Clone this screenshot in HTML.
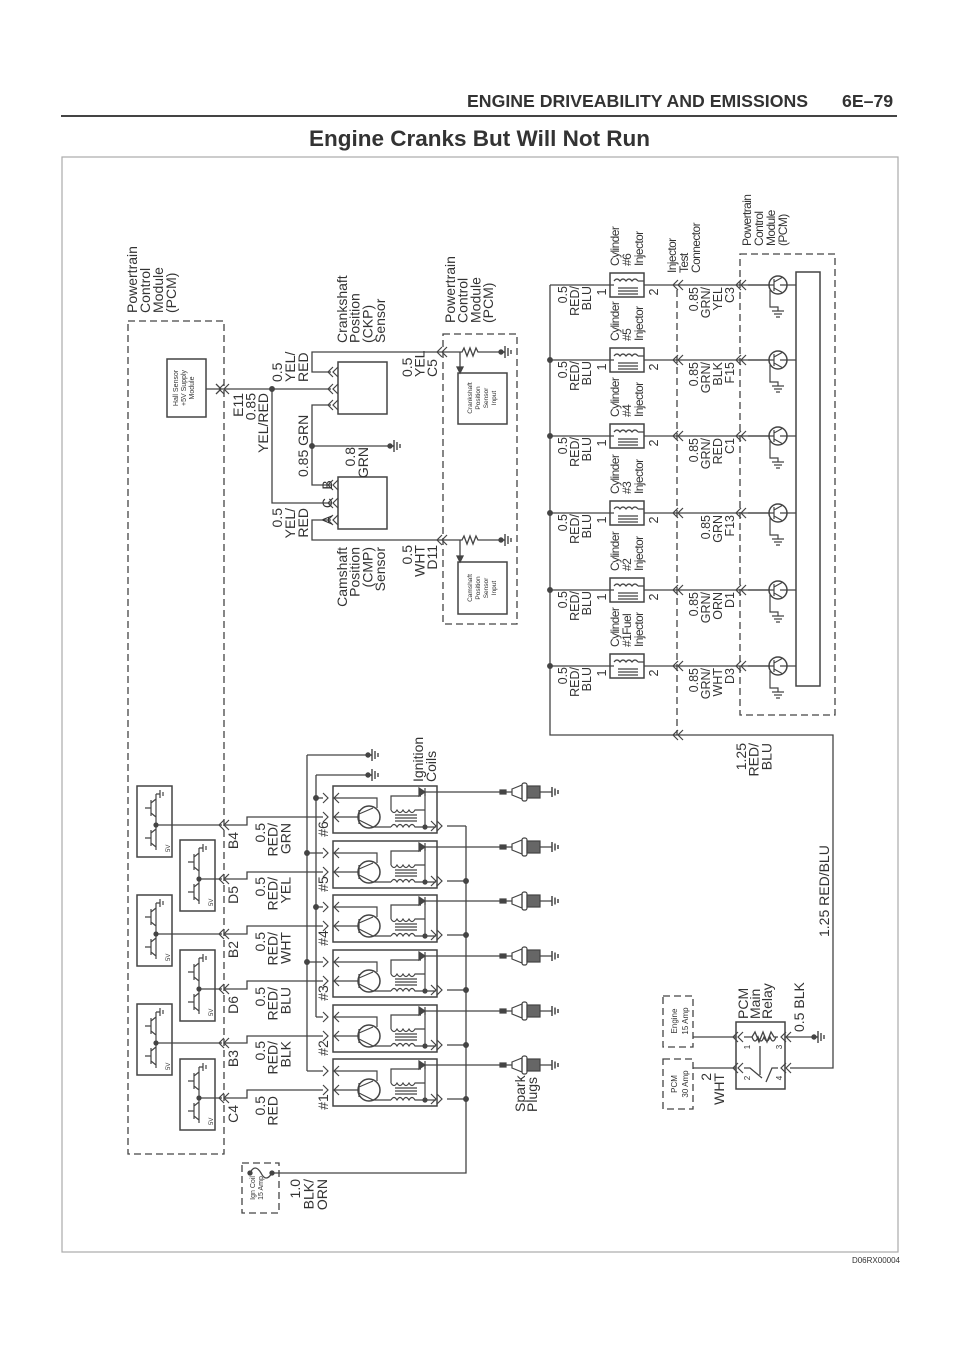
<!DOCTYPE html>
<html><head><meta charset="utf-8"><style>
html,body{margin:0;padding:0;background:#fff;}
svg{display:block;}
text{font-family:"Liberation Sans",sans-serif;fill:#333;}
</style></head><body>
<svg width="960" height="1358" viewBox="0 0 960 1358" xmlns="http://www.w3.org/2000/svg">
<defs>
<g id="cv"><path d="M0,-5 L-5,0 L0,5 M5,-5 L0,0 L5,5" fill="none" stroke="#444" stroke-width="1.2"/></g>
<g id="gr" fill="none" stroke="#444" stroke-width="1.4"><circle cx="0" cy="0" r="2" fill="#444"/><path d="M0,0 H4 M4,-6 V6 M7,-4 V4 M10,-2 V2"/></g>
<g id="coil" fill="none" stroke="#444" stroke-width="1.2">
<rect x="0" y="0" width="104" height="47" stroke-width="1.5"/>
<path d="M-10,7 L-5,12 L-10,17 M6,7 L1,12 L6,17 M-10,26 L-5,31 L-10,36 M6,26 L1,31 L6,36"/>
<path d="M0,12 H44 V22 M0,31 H26 M26,24 V38 M26,28 L40,22 M26,34 L40,41 L58,41"/>
<circle cx="36" cy="31" r="11" stroke-width="1.5"/>
<path d="M58,41 q3,-5 6,0 q3,-5 6,0 q3,-5 6,0 q3,-5 6,0 L92,41"/>
<path d="M62,29 H84 M62,32 H84 M62,35 H84"/>
<path d="M58,24 V10 H88 M58,24 q3,5 6,0 q3,5 6,0 q3,5 6,0 q3,5 6,0 L92,24 V6 M92,41 V24"/>
<path d="M86,2 L86,10 L92,6 Z" fill="#444"/><path d="M92,2 V10 M92,6 H104"/>
<circle cx="92" cy="41" r="2" fill="#444"/>
<path d="M98,35 L103,40 L98,45 M104,35 L109,40 L104,45 M92,41 H103"/>
</g>
<g id="plug" fill="none" stroke="#444" stroke-width="1.2">
<path d="M0,0 H10 M16,0 H22 M50,0 H62"/><rect x="10" y="-2" width="6" height="4" fill="#444"/>
<path d="M22,-3 L32,-7 L32,7 L22,3 Z"/><rect x="32" y="-9" width="5" height="18" rx="2"/>
<rect x="37" y="-6" width="13" height="12" fill="#666"/>
<path d="M62,-5 V5 M65,-3.5 V3.5 M68,-2 V2" stroke-width="1.5"/>
</g>
<g id="drv" fill="none" stroke="#444" stroke-width="1.2">
<rect x="0" y="0" width="35" height="71" stroke-width="1.5"/>
<path d="M19,8 V64 M8,22 H14 M14,14 V30 M14,17 L19,13 M14,27 L19,31 M8,52 H14 M14,44 V60 M14,47 L19,43 M14,57 L19,61 M19,8 H23 M23,4 V12 M26,6 V10"/>
<circle cx="19" cy="39" r="2" fill="#444"/>
</g>
<g id="inj" fill="none" stroke="#444" stroke-width="1.2">
<rect x="0" y="-12" width="34" height="24" stroke-width="1.5"/>
<path d="M4,-4 q3,-4 6,0 q3,-4 6,0 q3,-4 6,0 q3,-4 6,0 M8,3 H28 M8,6 H28 M8,9 H28 M0,0 H4 M28,-4 H34"/>
</g>
<g id="tr" fill="none" stroke="#444" stroke-width="1.2">
<circle cx="0" cy="0" r="9" stroke-width="1.5"/><path d="M-30,0 H-4 M-4,-6 V6 M-4,-3 L5,-8 M-4,3 L5,8 M2,0 H18 M-8,5 V22 H0 V26 M-6,26 H6 M-4,29 H4 M-2,32 H2"/>
</g>
</defs>

<!-- header -->
<text x="467" y="107" font-size="17.7" font-weight="bold" fill="#222">ENGINE DRIVEABILITY AND EMISSIONS</text>
<text x="842" y="107" font-size="17.7" font-weight="bold" fill="#222">6E–79</text>
<line x1="61" y1="116" x2="897" y2="116" stroke="#444" stroke-width="2"/>
<text x="309" y="146" font-size="22.5" font-weight="bold" fill="#222">Engine Cranks But Will Not Run</text>
<rect x="62" y="157" width="836" height="1095" fill="none" stroke="#aaa" stroke-width="1.2"/>
<text x="900" y="1263" font-size="8" text-anchor="end" fill="#777">D06RX00004</text>

<g fill="none" stroke="#444" stroke-width="1.3">
<g stroke-dasharray="7,4">
<rect x="128" y="321" width="96" height="833"/>
<rect x="443" y="334" width="74" height="290"/>
<rect x="740" y="254" width="95" height="461"/>
<rect x="242" y="1163" width="37" height="50"/>
<rect x="663" y="996" width="30" height="51"/>
<rect x="663" y="1059" width="30" height="50"/>
<line x1="677" y1="290" x2="677" y2="735"/>
</g>
<rect x="167" y="359" width="39" height="58" stroke-width="1.5"/>
<path d="M206,389 H272 M272,389 H331 M272,389 V503 H331 M331,372 H312 V352 H440 M331,405 H312 V485 H331 M312,446 H390 M331,520 H312 V540 H440"/>
<path d="M216,384 L221,389 L216,394"/>
<circle cx="272" cy="389" r="2.3" fill="#444"/><circle cx="312" cy="446" r="2.3" fill="#444"/>
<rect x="338" y="362" width="49" height="52" stroke-width="1.5"/>
<rect x="338" y="477" width="49" height="52" stroke-width="1.5"/>
<path d="M440,352 H462 l2,-4 l3,8 l3,-8 l3,8 l3,-8 l2,4 H501 M460,352 V372 M440,540 H462 l2,-4 l3,8 l3,-8 l3,8 l3,-8 l2,4 H501 M460,540 V561"/>
<path d="M457,367 L460,373 L463,367 Z M457,556 L460,562 L463,556 Z" fill="#444"/>
<rect x="458" y="373" width="49" height="51" stroke-width="1.5"/>
<rect x="458" y="562" width="49" height="52" stroke-width="1.5"/>
<path d="M307,755 V1071 M307,755 H368 M316,775 V1017 M316,775 H368"/>
<path d="M307,853 H323 M307,962 H323 M307,1071 H323 M316,798 H323 M316,907 H323 M316,1017 H323"/>
<g fill="#444"><circle cx="307" cy="853" r="2.3"/><circle cx="307" cy="962" r="2.3"/><circle cx="316" cy="798" r="2.3"/><circle cx="316" cy="907" r="2.3"/></g>
<path d="M156,825 H222 M224,825 H247 V817 H323 M199,879 H222 M224,879 H247 V872 H323 M156,934 H222 M224,934 H247 V926 H323 M199,989 H222 M224,989 H247 V981 H323 M156,1043 H222 M224,1043 H247 V1036 H323 M199,1098 H222 M224,1098 H247 V1090 H323"/>
<path d="M447,826 H466 M447,881 H466 M447,935 H466 M447,990 H466 M447,1045 H466 M447,1099 H466 M466,826 V1173 H272"/>
<g fill="#444"><circle cx="466" cy="881" r="2.3"/><circle cx="466" cy="935" r="2.3"/><circle cx="466" cy="990" r="2.3"/><circle cx="466" cy="1045" r="2.3"/><circle cx="466" cy="1099" r="2.3"/></g>
<path d="M437,792 H490 M437,847 H490 M437,901 H490 M437,956 H490 M437,1011 H490 M437,1065 H490"/>
<circle cx="250" cy="1173" r="2" fill="#444"/><circle cx="272" cy="1173" r="2" fill="#444"/>
<path d="M250,1173 q5,-10 11,0 q5,10 11,0"/>
<path d="M550,285 V735 H833 V1068 H790 M550,285 H610 M550,360 H610 M550,436 H610 M550,513 H610 M550,590 H610 M550,666 H610 M644,285 H770 M644,360 H770 M644,436 H770 M644,513 H770 M644,590 H770 M644,666 H770"/>
<g fill="#444"><circle cx="550" cy="360" r="2.3"/><circle cx="550" cy="436" r="2.3"/><circle cx="550" cy="513" r="2.3"/><circle cx="550" cy="590" r="2.3"/><circle cx="550" cy="666" r="2.3"/></g>
<rect x="796" y="272" width="24" height="414" stroke-width="1.5"/>
<rect x="736" y="1022" width="49" height="67" stroke-width="1.5"/>
<path d="M693,1037 H736 M693,1068 H736 M785,1037 H814 M744,1037 H752 l3,-5 l4,10 l4,-10 l4,10 l4,-10 l3,5 H778 M752,1037 q3,8 6,0 q3,8 6,0 q3,8 6,0 q3,8 6,0 M744,1068 H750 L762,1078 M778,1068 H772 L766,1082 M760,1046 V1075" />
</g>

<g>
<use href="#cv" x="224" y="389"/><use href="#cv" x="333" y="372"/><use href="#cv" x="333" y="389"/><use href="#cv" x="333" y="405"/>
<use href="#cv" x="333" y="485"/><use href="#cv" x="333" y="503"/><use href="#cv" x="333" y="520"/>
<use href="#cv" x="442" y="352"/><use href="#cv" x="442" y="540"/>
<use href="#gr" x="390" y="446"/><use href="#gr" x="501" y="352"/><use href="#gr" x="501" y="540"/>
<use href="#gr" x="368" y="755"/><use href="#gr" x="368" y="775"/><use href="#gr" x="814" y="1037"/>
<use href="#cv" x="224" y="825"/><use href="#cv" x="224" y="879"/><use href="#cv" x="224" y="934"/><use href="#cv" x="224" y="989"/><use href="#cv" x="224" y="1043"/><use href="#cv" x="224" y="1098"/>
<use href="#drv" x="137" y="786"/><use href="#drv" x="137" y="895"/><use href="#drv" x="137" y="1004"/>
<use href="#drv" x="180" y="840"/><use href="#drv" x="180" y="950"/><use href="#drv" x="180" y="1059"/>
<use href="#coil" x="333" y="786"/><use href="#coil" x="333" y="841"/><use href="#coil" x="333" y="895"/><use href="#coil" x="333" y="950"/><use href="#coil" x="333" y="1005"/><use href="#coil" x="333" y="1059"/>
<use href="#plug" x="490" y="792"/><use href="#plug" x="490" y="847"/><use href="#plug" x="490" y="901"/><use href="#plug" x="490" y="956"/><use href="#plug" x="490" y="1011"/><use href="#plug" x="490" y="1065"/>
<use href="#inj" x="610" y="285"/><use href="#inj" x="610" y="360"/><use href="#inj" x="610" y="436"/><use href="#inj" x="610" y="513"/><use href="#inj" x="610" y="590"/><use href="#inj" x="610" y="666"/>
<use href="#cv" x="678" y="285"/><use href="#cv" x="678" y="360"/><use href="#cv" x="678" y="436"/><use href="#cv" x="678" y="513"/><use href="#cv" x="678" y="590"/><use href="#cv" x="678" y="666"/><use href="#cv" x="678" y="735"/>
<use href="#cv" x="741" y="285"/><use href="#cv" x="741" y="360"/><use href="#cv" x="741" y="436"/><use href="#cv" x="741" y="513"/><use href="#cv" x="741" y="590"/><use href="#cv" x="741" y="666"/>
<use href="#tr" x="778" y="285"/><use href="#tr" x="778" y="360"/><use href="#tr" x="778" y="436"/><use href="#tr" x="778" y="513"/><use href="#tr" x="778" y="590"/><use href="#tr" x="778" y="666"/>
<use href="#cv" x="738" y="1037"/><use href="#cv" x="738" y="1068"/><use href="#cv" x="786" y="1037"/><use href="#cv" x="786" y="1068"/>
</g>

<g font-size="14">
<text transform="translate(137,313) rotate(-90)"><tspan x="0" y="0">Powertrain</tspan><tspan x="0" y="13">Control</tspan><tspan x="0" y="26">Module</tspan><tspan x="0" y="39">(PCM)</tspan></text>
<text transform="translate(178,388) rotate(-90)" font-size="7" text-anchor="middle"><tspan x="0" y="0">Hall Sensor</tspan><tspan x="0" y="8">+5V Supply</tspan><tspan x="0" y="16">Module</tspan></text>
<text transform="translate(243,393) rotate(-90)" text-anchor="end"><tspan x="0" y="0">E11</tspan><tspan x="0" y="12.5">0.85</tspan><tspan x="0" y="25">YEL/RED</tspan></text>
<text transform="translate(282,382) rotate(-90)"><tspan x="0" y="0">0.5</tspan><tspan x="0" y="13">YEL/</tspan><tspan x="0" y="26">RED</tspan></text>
<text transform="translate(308,477) rotate(-90)">0.85 GRN</text>
<text transform="translate(355,447) rotate(-90)" text-anchor="end"><tspan x="0" y="0">0.8</tspan><tspan x="0" y="13">GRN</tspan></text>
<text transform="translate(332,520) rotate(-90)" text-anchor="middle">A</text>
<text transform="translate(332,503) rotate(-90)" text-anchor="middle">C</text>
<text transform="translate(332,485) rotate(-90)" text-anchor="middle">B</text>
<text transform="translate(282,508) rotate(-90)" text-anchor="end"><tspan x="0" y="0">0.5</tspan><tspan x="0" y="13">YEL/</tspan><tspan x="0" y="26">RED</tspan></text>
<text transform="translate(347,343) rotate(-90)"><tspan x="0" y="0">Crankshaft</tspan><tspan x="0" y="12.7">Position</tspan><tspan x="0" y="25.4">(CKP)</tspan><tspan x="0" y="38">Sensor</tspan></text>
<text transform="translate(347,547) rotate(-90)" text-anchor="end"><tspan x="0" y="0">Camshaft</tspan><tspan x="0" y="12.7">Position</tspan><tspan x="0" y="25.4">(CMP)</tspan><tspan x="0" y="38">Sensor</tspan></text>
<text transform="translate(412,377) rotate(-90)"><tspan x="0" y="0">0.5</tspan><tspan x="0" y="12.5">YEL</tspan><tspan x="0" y="25">C5</tspan></text>
<text transform="translate(412,545) rotate(-90)" text-anchor="end"><tspan x="0" y="0">0.5</tspan><tspan x="0" y="12.5">WHT</tspan><tspan x="0" y="25">D11</tspan></text>
<text transform="translate(455,323) rotate(-90)"><tspan x="0" y="0">Powertrain</tspan><tspan x="0" y="12.7">Control</tspan><tspan x="0" y="25.4">Module</tspan><tspan x="0" y="38">(PCM)</tspan></text>
<g font-size="6.5" text-anchor="middle">
<text transform="translate(472,398) rotate(-90)"><tspan x="0" y="0">Crankshaft</tspan><tspan x="0" y="8">Position</tspan><tspan x="0" y="16">Sensor</tspan><tspan x="0" y="24">Input</tspan></text>
<text transform="translate(472,588) rotate(-90)"><tspan x="0" y="0">Camshaft</tspan><tspan x="0" y="8">Position</tspan><tspan x="0" y="16">Sensor</tspan><tspan x="0" y="24">Input</tspan></text>
<text transform="translate(255,1188) rotate(-90)" font-size="7"><tspan x="0" y="0">Ign Coil</tspan><tspan x="0" y="8">15 Amp</tspan></text>
<text transform="translate(677,1021) rotate(-90)" font-size="8"><tspan x="0" y="0">Engine</tspan><tspan x="0" y="11">15 Amp</tspan></text>
<text transform="translate(677,1084) rotate(-90)" font-size="8"><tspan x="0" y="0">PCM</tspan><tspan x="0" y="11">30 Amp</tspan></text>
</g>
<g font-size="6">
<text transform="translate(170,852) rotate(-90)">5V</text><text transform="translate(170,961) rotate(-90)">5V</text><text transform="translate(170,1070) rotate(-90)">5V</text>
<text transform="translate(213,906) rotate(-90)">5V</text><text transform="translate(213,1016) rotate(-90)">5V</text><text transform="translate(213,1125) rotate(-90)">5V</text>
</g>
<g text-anchor="end">
<text transform="translate(238,832) rotate(-90)">B4</text>
<text transform="translate(238,886) rotate(-90)">D5</text>
<text transform="translate(238,941) rotate(-90)">B2</text>
<text transform="translate(238,996) rotate(-90)">D6</text>
<text transform="translate(238,1050) rotate(-90)">B3</text>
<text transform="translate(238,1105) rotate(-90)">C4</text>
<text transform="translate(265,823) rotate(-90)"><tspan x="0" y="0">0.5</tspan><tspan x="0" y="12.7">RED/</tspan><tspan x="0" y="25.4">GRN</tspan></text>
<text transform="translate(265,877) rotate(-90)"><tspan x="0" y="0">0.5</tspan><tspan x="0" y="12.7">RED/</tspan><tspan x="0" y="25.4">YEL</tspan></text>
<text transform="translate(265,932) rotate(-90)"><tspan x="0" y="0">0.5</tspan><tspan x="0" y="12.7">RED/</tspan><tspan x="0" y="25.4">WHT</tspan></text>
<text transform="translate(265,987) rotate(-90)"><tspan x="0" y="0">0.5</tspan><tspan x="0" y="12.7">RED/</tspan><tspan x="0" y="25.4">BLU</tspan></text>
<text transform="translate(265,1041) rotate(-90)"><tspan x="0" y="0">0.5</tspan><tspan x="0" y="12.7">RED/</tspan><tspan x="0" y="25.4">BLK</tspan></text>
<text transform="translate(265,1096) rotate(-90)"><tspan x="0" y="0">0.5</tspan><tspan x="0" y="12.7">RED</tspan></text>
<text transform="translate(300,1179) rotate(-90)"><tspan x="0" y="0">1.0</tspan><tspan x="0" y="13.5">BLK/</tspan><tspan x="0" y="27">ORN</tspan></text>
<text transform="translate(746,743) rotate(-90)"><tspan x="0" y="0">1.25</tspan><tspan x="0" y="12.7">RED/</tspan><tspan x="0" y="25.4">BLU</tspan></text>
<text transform="translate(711,1073) rotate(-90)"><tspan x="0" y="0">2</tspan><tspan x="0" y="13">WHT</tspan></text>
</g>
<g text-anchor="middle">
<text transform="translate(328,829) rotate(-90)">#6</text>
<text transform="translate(328,884) rotate(-90)">#5</text>
<text transform="translate(328,938) rotate(-90)">#4</text>
<text transform="translate(328,993) rotate(-90)">#3</text>
<text transform="translate(328,1048) rotate(-90)">#2</text>
<text transform="translate(328,1102) rotate(-90)">#1</text>
</g>
<text transform="translate(423,782) rotate(-90)"><tspan x="0" y="0">Ignition</tspan><tspan x="0" y="13">Coils</tspan></text>
<text transform="translate(525,1112) rotate(-90)"><tspan x="0" y="0">Spark</tspan><tspan x="0" y="12">Plugs</tspan></text>
<text transform="translate(829,937) rotate(-90)">1.25 RED/BLU</text>
<text transform="translate(748,1019) rotate(-90)"><tspan x="0" y="0">PCM</tspan><tspan x="0" y="12">Main</tspan><tspan x="0" y="24">Relay</tspan></text>
<text transform="translate(804,1032) rotate(-90)">0.5 BLK</text>
<g font-size="8" text-anchor="middle">
<text transform="translate(750,1047) rotate(-90)">1</text><text transform="translate(782,1047) rotate(-90)">3</text>
<text transform="translate(750,1078) rotate(-90)">2</text><text transform="translate(782,1078) rotate(-90)">4</text>
</g>
</g>

<g font-size="12.5">
<g text-anchor="end">
<text transform="translate(567,286) rotate(-90)"><tspan x="0" y="0">0.5</tspan><tspan x="0" y="12">RED/</tspan><tspan x="0" y="24">BLU</tspan></text>
<text transform="translate(567,361) rotate(-90)"><tspan x="0" y="0">0.5</tspan><tspan x="0" y="12">RED/</tspan><tspan x="0" y="24">BLU</tspan></text>
<text transform="translate(567,437) rotate(-90)"><tspan x="0" y="0">0.5</tspan><tspan x="0" y="12">RED/</tspan><tspan x="0" y="24">BLU</tspan></text>
<text transform="translate(567,514) rotate(-90)"><tspan x="0" y="0">0.5</tspan><tspan x="0" y="12">RED/</tspan><tspan x="0" y="24">BLU</tspan></text>
<text transform="translate(567,591) rotate(-90)"><tspan x="0" y="0">0.5</tspan><tspan x="0" y="12">RED/</tspan><tspan x="0" y="24">BLU</tspan></text>
<text transform="translate(567,667) rotate(-90)"><tspan x="0" y="0">0.5</tspan><tspan x="0" y="12">RED/</tspan><tspan x="0" y="24">BLU</tspan></text>
<text transform="translate(698,287) rotate(-90)"><tspan x="0" y="0">0.85</tspan><tspan x="0" y="12">GRN/</tspan><tspan x="0" y="24">YEL</tspan><tspan x="0" y="36">C3</tspan></text>
<text transform="translate(698,362) rotate(-90)"><tspan x="0" y="0">0.85</tspan><tspan x="0" y="12">GRN/</tspan><tspan x="0" y="24">BLK</tspan><tspan x="0" y="36">F15</tspan></text>
<text transform="translate(698,438) rotate(-90)"><tspan x="0" y="0">0.85</tspan><tspan x="0" y="12">GRN/</tspan><tspan x="0" y="24">RED</tspan><tspan x="0" y="36">C1</tspan></text>
<text transform="translate(710,515) rotate(-90)"><tspan x="0" y="0">0.85</tspan><tspan x="0" y="12">GRN</tspan><tspan x="0" y="24">F13</tspan></text>
<text transform="translate(698,592) rotate(-90)"><tspan x="0" y="0">0.85</tspan><tspan x="0" y="12">GRN/</tspan><tspan x="0" y="24">ORN</tspan><tspan x="0" y="36">D1</tspan></text>
<text transform="translate(698,668) rotate(-90)"><tspan x="0" y="0">0.85</tspan><tspan x="0" y="12">GRN/</tspan><tspan x="0" y="24">WHT</tspan><tspan x="0" y="36">D3</tspan></text>
</g>
<g text-anchor="middle">
<text transform="translate(606,292) rotate(-90)">1</text><text transform="translate(658,292) rotate(-90)">2</text>
<text transform="translate(606,367) rotate(-90)">1</text><text transform="translate(658,367) rotate(-90)">2</text>
<text transform="translate(606,443) rotate(-90)">1</text><text transform="translate(658,443) rotate(-90)">2</text>
<text transform="translate(606,520) rotate(-90)">1</text><text transform="translate(658,520) rotate(-90)">2</text>
<text transform="translate(606,597) rotate(-90)">1</text><text transform="translate(658,597) rotate(-90)">2</text>
<text transform="translate(606,673) rotate(-90)">1</text><text transform="translate(658,673) rotate(-90)">2</text>
</g>
<g font-size="12" letter-spacing="-0.6">
<text transform="translate(619,266) rotate(-90)"><tspan x="0" y="0">Cylinder</tspan><tspan x="0" y="12">#6</tspan><tspan x="0" y="24">Injector</tspan></text>
<text transform="translate(619,341) rotate(-90)"><tspan x="0" y="0">Cylinder</tspan><tspan x="0" y="12">#5</tspan><tspan x="0" y="24">Injector</tspan></text>
<text transform="translate(619,417) rotate(-90)"><tspan x="0" y="0">Cylinder</tspan><tspan x="0" y="12">#4</tspan><tspan x="0" y="24">Injector</tspan></text>
<text transform="translate(619,494) rotate(-90)"><tspan x="0" y="0">Cylinder</tspan><tspan x="0" y="12">#3</tspan><tspan x="0" y="24">Injector</tspan></text>
<text transform="translate(619,571) rotate(-90)"><tspan x="0" y="0">Cylinder</tspan><tspan x="0" y="12">#2</tspan><tspan x="0" y="24">Injector</tspan></text>
<text transform="translate(619,647) rotate(-90)"><tspan x="0" y="0">Cylinder</tspan><tspan x="0" y="12">#1Fuel</tspan><tspan x="0" y="24">Injector</tspan></text>
<text transform="translate(676,273) rotate(-90)"><tspan x="0" y="0">Injector</tspan><tspan x="0" y="12">Test</tspan><tspan x="0" y="24">Connector</tspan></text>
<text transform="translate(751,246) rotate(-90)"><tspan x="0" y="0">Powertrain</tspan><tspan x="0" y="12">Control</tspan><tspan x="0" y="24">Module</tspan><tspan x="0" y="36">(PCM)</tspan></text>
</g>
</g>
</svg>
</body></html>
